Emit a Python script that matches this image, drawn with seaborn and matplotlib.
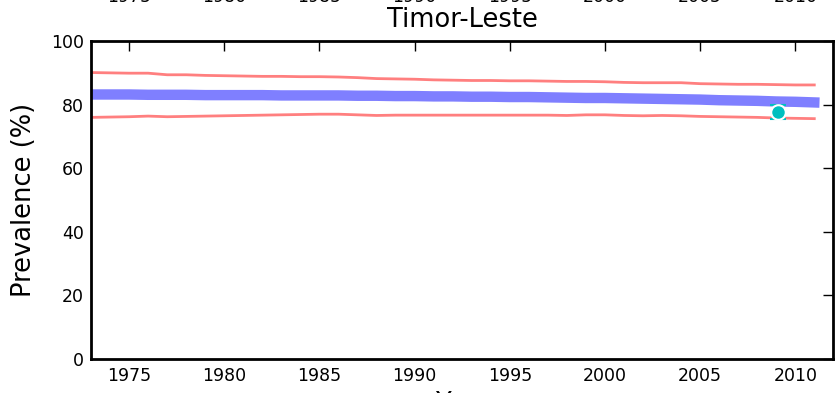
import matplotlib
matplotlib.use("Agg")
import matplotlib.pyplot as plt
import numpy as np
import pandas as pd
import seaborn as sns

sns.set_style("white")
plt.rcParams["font.family"] = ["DejaVu Sans"]
plt.rcParams["text.color"] = "black"
plt.rcParams["axes.labelcolor"] = "black"
plt.rcParams["xtick.color"] = "black"
plt.rcParams["ytick.color"] = "black"

# Data
years = list(range(1973, 2012))
estimate = [83.2, 83.2, 83.2, 83.1, 83.1, 83.1, 83.0, 83.0, 83.0, 83.0,
            82.9, 82.9, 82.9, 82.9, 82.8, 82.8, 82.7, 82.7, 82.6, 82.6,
            82.5, 82.5, 82.4, 82.4, 82.3, 82.2, 82.1, 82.1, 82.0, 81.9,
            81.8, 81.7, 81.6, 81.4, 81.3, 81.2, 81.0, 80.9, 80.7]
upper = [90.1, 90.0, 89.9, 89.9, 89.4, 89.4, 89.2, 89.1, 89.0, 88.9,
         88.9, 88.8, 88.8, 88.7, 88.5, 88.2, 88.1, 88.0, 87.8, 87.7,
         87.6, 87.6, 87.5, 87.5, 87.4, 87.3, 87.3, 87.2, 87.0, 86.9,
         86.9, 86.9, 86.6, 86.5, 86.4, 86.4, 86.3, 86.2, 86.2]
lower = [76.0, 76.1, 76.2, 76.4, 76.2, 76.3, 76.4, 76.5, 76.6, 76.7,
         76.8, 76.9, 77.0, 77.0, 76.8, 76.6, 76.7, 76.7, 76.7, 76.7,
         76.7, 76.7, 76.7, 76.7, 76.7, 76.6, 76.8, 76.8, 76.6, 76.5,
         76.6, 76.5, 76.3, 76.2, 76.1, 76.0, 75.8, 75.7, 75.6]

survey_year = [2009.1]
survey_value = [77.7]
survey_err = [2.1]

x_ticks = [1975, 1980, 1985, 1990, 1995, 2000, 2005, 2010]
y_ticks = [0, 20, 40, 60, 80, 100]

df = pd.DataFrame({"year": years, "estimate": estimate,
                   "upper": upper, "lower": lower})
survey = pd.DataFrame({"year": survey_year, "value": survey_value})

fig = plt.figure(figsize=(8.35, 3.93), dpi=100)
ax = fig.add_axes([0.109, 0.0865, 0.889, 0.809])

sns.lineplot(data=df, x="year", y="upper", color="red", alpha=0.5,
             linewidth=2, solid_capstyle="projecting", ax=ax)
sns.lineplot(data=df, x="year", y="lower", color="red", alpha=0.5,
             linewidth=2, solid_capstyle="projecting", ax=ax)
sns.lineplot(data=df, x="year", y="estimate", color="blue", alpha=0.5,
             linewidth=7.5, solid_capstyle="projecting", ax=ax)
ax.errorbar(survey_year, survey_value, yerr=survey_err, fmt="none",
            ecolor="c", elinewidth=1.5, capsize=6, capthick=1.5, zorder=4)
sns.scatterplot(data=survey, x="year", y="value", color="c", s=110,
                edgecolor="white", linewidth=1.5, zorder=5, ax=ax)

ax.set_xlim(1973, 2012)
ax.set_ylim(0, 100)
ax.set_xticks(x_ticks)
ax.set_yticks(y_ticks)
ax.tick_params(direction="in", length=7, width=1, labelsize=12.5,
               top=True, right=True, color="black", labelcolor="black")
ax.tick_params(axis="x", pad=6)
ax.tick_params(axis="y", pad=5)
for side in ["left", "right", "top", "bottom"]:
    ax.spines[side].set_visible(True)
    ax.spines[side].set_color("black")
    ax.spines[side].set_linewidth(2)

# labels of the panel above, cut by the frame
sec = ax.secondary_xaxis("top")
sec.set_xticks(x_ticks)
sec.tick_params(length=0, pad=25, labelsize=12.5, labelcolor="black")
sec.spines["top"].set_visible(False)

ax.set_title("Timor-Leste", fontsize=18.5, y=1.0, pad=10)
ax.set_xlabel("Year", fontsize=18.5, labelpad=4)
ax.set_ylabel("Prevalence (%)", fontsize=18.5, labelpad=10)

fig.savefig("out.png", dpi=100)
